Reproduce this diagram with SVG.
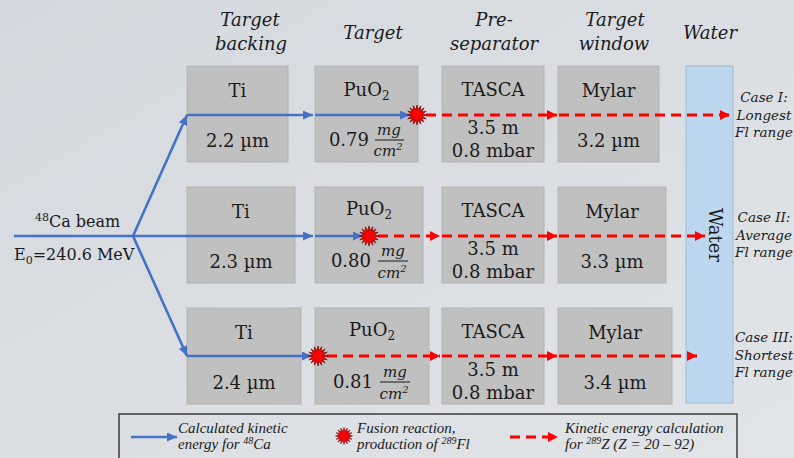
<svg xmlns="http://www.w3.org/2000/svg" xmlns:xlink="http://www.w3.org/1999/xlink" width="794" height="458" viewBox="0 0 794 458">
<defs>
<linearGradient id="bg" x1="0" y1="0" x2="1" y2="1">
<stop offset="0" stop-color="#d4d9df"/>
<stop offset="1" stop-color="#e1e4e7"/>
</linearGradient>
<marker id="ab" markerUnits="userSpaceOnUse" markerWidth="11" markerHeight="9" refX="10" refY="4.5" orient="auto" viewBox="0 0 11 9">
<path d="M0,0 L10,4.5 L0,9 z" fill="#4472c4"/>
</marker>
<marker id="ar" markerUnits="userSpaceOnUse" markerWidth="11" markerHeight="11" refX="10" refY="5" orient="auto" viewBox="0 0 11 10">
<path d="M0,0 L10,5 L0,10 z" fill="#ff0000"/>
</marker>
<polygon id="star" points="10,0 5.39,1.07 9.24,3.83 4.57,3.06 7.07,7.07 3.06,4.57 3.83,9.24 1.07,5.39 0,10 -1.07,5.39 -3.83,9.24 -3.06,4.57 -7.07,7.07 -4.57,3.06 -9.24,3.83 -5.39,1.07 -10,0 -5.39,-1.07 -9.24,-3.83 -4.57,-3.06 -7.07,-7.07 -3.06,-4.57 -3.83,-9.24 -1.07,-5.39 0,-10 1.07,-5.39 3.83,-9.24 3.06,-4.57 7.07,-7.07 4.57,-3.06 9.24,-3.83 5.39,-1.07" fill="#ff0000" stroke="#7a0000" stroke-width="0.7"/>
<style>
.box{fill:#c0c0c0;stroke:#b3b3b3;stroke-width:1}
.water{fill:#bdd7ee;stroke:#9fb9d2;stroke-width:1}
.t{font-family:"DejaVu Serif","Liberation Serif",serif;font-size:18px;fill:#1a1a1a;text-anchor:middle}
.h{font-family:"DejaVu Serif","Liberation Serif",serif;font-style:italic;font-size:18px;fill:#1a1a1a;text-anchor:middle}
.fr{font-family:"DejaVu Serif","Liberation Serif",serif;font-style:italic;font-size:15px;fill:#1a1a1a;text-anchor:middle}
.c{font-family:"DejaVu Serif","Liberation Serif",serif;font-style:italic;font-size:13.5px;fill:#1a1a1a;text-anchor:middle}
.b{font-family:"DejaVu Serif","Liberation Serif",serif;font-size:16px;fill:#1a1a1a}
.lg{font-family:"Liberation Serif","DejaVu Serif",serif;font-style:italic;font-size:15px;fill:#1a1a1a}
.blue{stroke:#4472c4;stroke-width:2.6;fill:none}
.red{stroke:#ff0000;stroke-width:2.8;fill:none;stroke-dasharray:10 6}
.fl{stroke:#1a1a1a;stroke-width:1}
</style>
</defs>
<rect x="0" y="0" width="794" height="458" fill="url(#bg)"/>

<!-- headers -->
<g id="headers">
<text class="h" x="250" y="26">Target</text>
<text class="h" x="251" y="50">backing</text>
<text class="h" x="373" y="39">Target</text>
<text class="h" x="494" y="26">Pre-</text>
<text class="h" x="494" y="50">separator</text>
<text class="h" x="615" y="26">Target</text>
<text class="h" x="614" y="50">window</text>
<text class="h" x="710" y="39">Water</text>
</g>

<!-- water column -->
<g id="water">
<rect class="water" x="686" y="66" width="47" height="337"/>
<text class="t" transform="translate(709,235) rotate(90)" x="0" y="0">Water</text>
</g>

<!-- Row 1 -->
<g id="ti1"><rect class="box" x="187" y="66" width="101" height="96"/>
<text class="t" x="237.5" y="97">Ti</text><text class="t" x="237.5" y="147">2.2 µm</text></g>
<g id="puo2-1"><rect class="box" x="315" y="66" width="103" height="96"/>
<text class="t" x="366.5" y="96">PuO<tspan font-size="12" dy="4">2</tspan></text>
<text class="t" x="369" y="146" style="text-anchor:end">0.79</text>
<text class="fr" x="389" y="135">mg</text><line class="fl" x1="375" y1="140" x2="404" y2="140"/><text class="fr" x="388" y="156">cm<tspan font-size="10" dy="-6">2</tspan></text></g>
<g id="tasca1"><rect class="box" x="442" y="66" width="102" height="96"/>
<text class="t" x="493" y="96">TASCA</text><text class="t" x="493" y="134">3.5 m</text><text class="t" x="493" y="157">0.8 mbar</text></g>
<g id="mylar1"><rect class="box" x="558" y="66" width="101" height="96"/>
<text class="t" x="608.5" y="97">Mylar</text><text class="t" x="608.5" y="147">3.2 µm</text></g>

<!-- Row 2 -->
<g id="ti2"><rect class="box" x="187" y="187" width="108" height="96"/>
<text class="t" x="241" y="218">Ti</text><text class="t" x="241" y="268">2.3 µm</text></g>
<g id="puo2-2"><rect class="box" x="315" y="187" width="108" height="96"/>
<text class="t" x="369" y="215">PuO<tspan font-size="12" dy="4">2</tspan></text>
<text class="t" x="371" y="267" style="text-anchor:end">0.80</text>
<text class="fr" x="393" y="256">mg</text><line class="fl" x1="378" y1="261" x2="408" y2="261"/><text class="fr" x="392" y="278">cm<tspan font-size="10" dy="-6">2</tspan></text></g>
<g id="tasca2"><rect class="box" x="442" y="187" width="102" height="96"/>
<text class="t" x="493" y="217">TASCA</text><text class="t" x="493" y="255">3.5 m</text><text class="t" x="493" y="278">0.8 mbar</text></g>
<g id="mylar2"><rect class="box" x="558" y="187" width="108" height="96"/>
<text class="t" x="612" y="218">Mylar</text><text class="t" x="612" y="268">3.3 µm</text></g>

<!-- Row 3 -->
<g id="ti3"><rect class="box" x="187" y="308" width="114" height="96"/>
<text class="t" x="244" y="339">Ti</text><text class="t" x="244" y="389">2.4 µm</text></g>
<g id="puo2-3"><rect class="box" x="315" y="308" width="114" height="96"/>
<text class="t" x="372" y="336">PuO<tspan font-size="12" dy="4">2</tspan></text>
<text class="t" x="373" y="388" style="text-anchor:end">0.81</text>
<text class="fr" x="395" y="377">mg</text><line class="fl" x1="380" y1="382" x2="410" y2="382"/><text class="fr" x="394" y="399">cm<tspan font-size="10" dy="-6">2</tspan></text></g>
<g id="tasca3"><rect class="box" x="442" y="308" width="102" height="96"/>
<text class="t" x="493" y="338">TASCA</text><text class="t" x="493" y="376">3.5 m</text><text class="t" x="493" y="399">0.8 mbar</text></g>
<g id="mylar3"><rect class="box" x="558" y="308" width="114" height="96"/>
<text class="t" x="615" y="339">Mylar</text><text class="t" x="615" y="389">3.4 µm</text></g>

<!-- beam labels -->
<g id="beam">
<text class="b" x="35" y="227"><tspan font-size="11" dy="-6">48</tspan><tspan dy="6">Ca beam</tspan></text>
<text class="b" x="14" y="260">E<tspan font-size="11" dy="4">0</tspan><tspan dy="-4">=240.6 MeV</tspan></text>
</g>

<!-- case labels -->
<g id="cases">
<text class="c" x="764" y="102">Case I:</text>
<text class="c" x="764" y="120">Longest</text>
<text class="c" x="764" y="137">Fl range</text>
<text class="c" x="764" y="222">Case II:</text>
<text class="c" x="764" y="240">Average</text>
<text class="c" x="764" y="257">Fl range</text>
<text class="c" x="764" y="342">Case III:</text>
<text class="c" x="764" y="360">Shortest</text>
<text class="c" x="764" y="377">Fl range</text>
</g>

<!-- connectors -->
<g id="connectors">
<path class="blue" d="M14,236 L133,236"/>
<path class="blue" d="M133,236 L187,115" marker-end="url(#ab)"/>
<path class="blue" d="M133,236 L187,356" marker-end="url(#ab)"/>
<path class="blue" d="M133,236 L313,236" marker-end="url(#ab)"/>
<path class="blue" d="M187,115 L313,115" marker-end="url(#ab)"/>
<path class="blue" d="M315,115 L410,115" marker-end="url(#ab)"/>
<path class="blue" d="M315,236 L363,236" marker-end="url(#ab)"/>
<path class="blue" d="M187,356 L312,356" marker-end="url(#ab)"/>

<path class="red" d="M426,115 L557,115" marker-end="url(#ar)"/>
<path class="red" d="M559,115 L730,115" marker-end="url(#ar)"/>
<path class="red" d="M378,236 L440,236" marker-end="url(#ar)"/>
<path class="red" d="M442,236 L557,236" marker-end="url(#ar)"/>
<path class="red" d="M559,236 L705,236" marker-end="url(#ar)"/>
<path class="red" d="M327,356 L440,356" marker-end="url(#ar)"/>
<path class="red" d="M442,356 L557,356" marker-end="url(#ar)"/>
<path class="red" d="M559,356 L697,356" marker-end="url(#ar)"/>

<use xlink:href="#star" href="#star" transform="translate(417,115)"/>
<use xlink:href="#star" href="#star" transform="translate(369,236)"/>
<use xlink:href="#star" href="#star" transform="translate(318,356)"/>
</g>

<!-- legend -->
<g id="legend">
<rect x="119" y="414" width="618" height="52" fill="none" stroke="#3a3a3a" stroke-width="1.5"/>
<path class="blue" d="M131,437 L177,437" marker-end="url(#ab)"/>
<text class="lg" x="178" y="433">Calculated kinetic</text>
<text class="lg" x="178" y="449">energy for <tspan font-size="10" dy="-5">48</tspan><tspan dy="5">Ca</tspan></text>
<use xlink:href="#star" href="#star" transform="translate(344,436) scale(0.85)"/>
<text class="lg" x="357" y="433">Fusion reaction,</text>
<text class="lg" x="357" y="449">production of <tspan font-size="10" dy="-5">289</tspan><tspan dy="5">Fl</tspan></text>
<path class="red" d="M510,437 L558,437" stroke-dasharray="12 6" marker-end="url(#ar)"/>
<text class="lg" x="565" y="433">Kinetic energy calculation</text>
<text class="lg" x="565" y="449">for <tspan font-size="10" dy="-5">289</tspan><tspan dy="5">Z (Z = 20 – 92)</tspan></text>
</g>
</svg>
